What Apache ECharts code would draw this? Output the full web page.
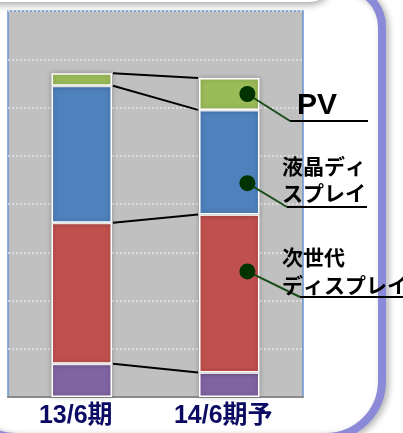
<!DOCTYPE html>
<html>
<head>
<meta charset="utf-8">
<script src="https://cdn.jsdelivr.net/npm/echarts@6/dist/echarts.min.js"></script>
<style>
  html, body { margin: 0; padding: 0; background: #ffffff; }
  #chart { width: 403px; height: 433px; }
</style>
</head>
<body>
<div id="chart"></div>
<script>
// Period categories on the x axis
const categories = ['13/6期', '14/6期予'];

// Segment values per period, stacked from the bottom up
const otherValues   = [0.69, 0.51];
const nextGenValues = [2.92, 3.27];
const lcdValues     = [2.84, 2.17];
const pvValues      = [0.26, 0.66];

// Value axis range (no tick labels are printed)
const yMin = 0;
const yMax = 8;
const yStep = 1;

const stackOrder = [otherValues, nextGenValues, lcdValues, pvValues];
const colors = ['#8064a2', '#c0504d', '#4f81bd', '#9bbb59'];
const seriesNames = ['その他', '次世代ディスプレイ', '液晶ディスプレイ', 'PV'];
const BAR_RATIO = 0.41;

// Cumulative top of each stacked segment, per category
function cumulativeTops(catIdx) {
  const tops = [];
  let sum = 0;
  stackOrder.forEach(arr => { sum += arr[catIdx]; tops.push(sum); });
  return tops;
}
const topsA = cumulativeTops(0);
const topsB = cumulativeTops(1);

// Connector lines join the top of every segment between the two bars
const connectorData = topsA.map((t, i) => [0, t, topsB[i]]);

// Callouts attached to the second bar: segment index, relative height within the segment
const callouts = [
  { text: 'PV', seg: 3, frac: 0.5, elbow: [290, 121], end: 368, pos: [297, 90],
    font: { fontSize: 30, fontFamily: '"Liberation Sans", Arial, sans-serif', lineHeight: 32 } },
  { text: '液晶ディ\nスプレイ', seg: 2, frac: 0.30, elbow: [287, 207], end: 367, pos: [282, 153],
    font: { fontSize: 21, fontFamily: '"Noto Sans CJK JP", sans-serif', lineHeight: 27 } },
  { text: '次世代\nディスプレイ', seg: 1, frac: 0.64, elbow: [300, 297], end: 403, pos: [282, 243],
    font: { fontSize: 21, fontFamily: '"Noto Sans CJK JP", sans-serif', lineHeight: 28 } }
];
const calloutData = callouts.map((c, i) => {
  const base = c.seg > 0 ? topsB[c.seg - 1] : 0;
  return [1, base + stackOrder[c.seg][1] * c.frac, i];
});

const barSeries = stackOrder.map((arr, i) => ({
  name: seriesNames[i],
  type: 'bar',
  stack: 'total',
  barWidth: (BAR_RATIO * 100) + '%',
  data: arr,
  itemStyle: {
    color: colors[i],
    borderColor: '#ffffff',
    borderWidth: 1.5,
    shadowColor: 'rgba(0,0,0,0.25)',
    shadowBlur: 5
  },
  z: 3
}));

const chart = echarts.init(document.getElementById('chart'), null, { renderer: 'canvas' });

chart.setOption({
  animation: false,
  backgroundColor: '#ffffff',
  grid: {
    left: 8, right: 100, top: 11, bottom: 36,
    show: true,
    backgroundColor: '#c0c0c0',
    borderColor: '#6a92cc',
    borderWidth: 1.5
  },
  graphic: [
    {
      // box above the chart panel
      type: 'rect', z: -10,
      shape: { x: -30, y: -70, width: 362, height: 72, r: 22 },
      style: { fill: '#ffffff', shadowColor: 'rgba(0,0,0,0.4)', shadowBlur: 8, shadowOffsetY: 2 }
    },
    {
      // rounded panel frame
      type: 'rect', z: -9,
      shape: { x: -40, y: -13, width: 422, height: 450, r: [40, 40, 56, 56] },
      style: { fill: 'none', stroke: '#8a8ad8', lineWidth: 8,
               shadowColor: 'rgba(0,0,0,0.3)', shadowBlur: 6, shadowOffsetX: 3, shadowOffsetY: 2 }
    }
  ],
  xAxis: {
    type: 'category',
    data: categories,
    axisLine: { show: true, lineStyle: { color: '#8a8a8a', width: 2 } },
    axisTick: { show: false },
    axisLabel: {
      margin: 7,
      color: '#0b0b64',
      fontSize: 25,
      fontWeight: 'bold',
      fontFamily: '"Liberation Sans", "Noto Sans CJK JP", sans-serif',
      padding: [0, 12, 0, 0]
    },
    splitLine: { show: false }
  },
  yAxis: {
    type: 'value',
    min: yMin, max: yMax, interval: yStep,
    axisLine: { show: false },
    axisTick: { show: false },
    axisLabel: { show: false },
    splitLine: { show: true, lineStyle: { color: '#e6e6e6', type: [2, 2], width: 1.5 } }
  },
  series: barSeries.concat([
    {
      type: 'custom',
      name: 'connectors',
      data: connectorData,
      z: 4,
      clip: false,
      renderItem: function (params, api) {
        const bandW = api.size([1, 0])[0];
        const half = bandW * BAR_RATIO / 2;
        const p1 = api.coord([0, api.value(1)]);
        const p2 = api.coord([1, api.value(2)]);
        return {
          type: 'line',
          shape: { x1: p1[0] + half + 1, y1: p1[1], x2: p2[0] - half - 1, y2: p2[1] },
          style: { stroke: '#000000', lineWidth: 2 }
        };
      }
    },
    {
      type: 'custom',
      name: 'callouts',
      data: calloutData,
      z: 10,
      clip: false,
      renderItem: function (params, api) {
        const c = callouts[api.value(2)];
        const bandW = api.size([1, 0])[0];
        const p = api.coord([1, api.value(1)]);
        const dx = p[0] + bandW * BAR_RATIO * 0.3;
        return {
          type: 'group',
          children: [
            {
              type: 'polyline',
              shape: { points: [[dx, p[1]], c.elbow] },
              style: { stroke: '#1a4d1a', lineWidth: 2, fill: null }
            },
            {
              type: 'line',
              shape: { x1: c.elbow[0], y1: c.elbow[1], x2: c.end, y2: c.elbow[1] },
              style: { stroke: '#000000', lineWidth: 2 }
            },
            {
              type: 'circle',
              shape: { cx: dx, cy: p[1], r: 8 },
              style: { fill: '#003300' }
            },
            {
              type: 'text',
              x: c.pos[0], y: c.pos[1],
              style: Object.assign({
                text: c.text, fill: '#000000', fontWeight: 'bold',
                verticalAlign: 'top', align: 'left'
              }, c.font)
            }
          ]
        };
      }
    }
  ])
});
</script>
</body>
</html>
